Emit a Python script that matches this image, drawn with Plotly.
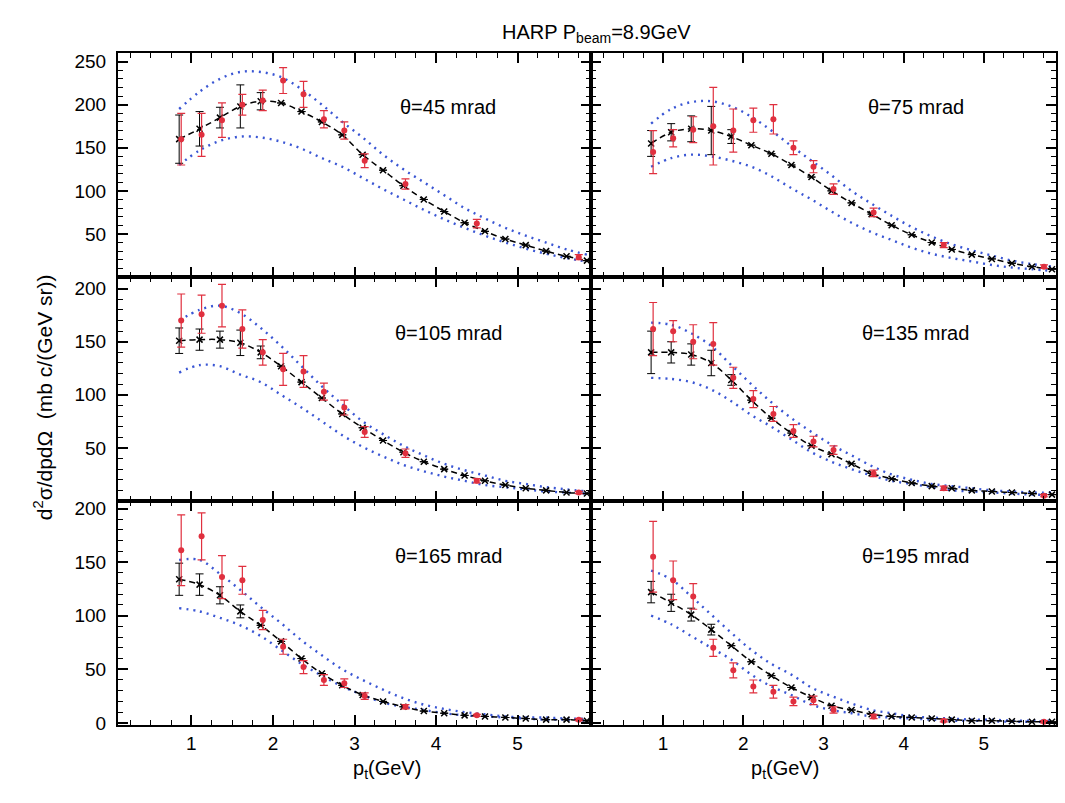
import plotly.graph_objects as go
from plotly.subplots import make_subplots

# ---------------- data ----------------
p_grid = [0.85, 1.1, 1.35, 1.6, 1.85, 2.1, 2.35, 2.6, 2.85, 3.1, 3.35,
          3.6, 3.85, 4.1, 4.35, 4.6, 4.85, 5.1, 5.35, 5.6, 5.85]
p_data = [0.875, 1.125, 1.375, 1.625, 1.875, 2.125, 2.375, 2.625, 2.875,
          3.125, 3.625, 4.5, 5.75]

angles = ["45", "75", "105", "135", "165", "195"]

# central model (black dashed)
mod_45 = [160, 172, 185, 198, 204, 202, 192, 180, 165, 142, 124, 106, 90, 76, 63, 53, 44, 37, 30, 24, 19]
mod_75 = [155, 168, 172, 170, 163, 153, 143, 130, 116, 100, 86, 73, 60, 49, 40, 32, 26, 21, 16, 12, 9]
mod_105 = [151, 152, 152, 149, 140, 127, 112, 97, 82, 69, 57, 46, 37, 30, 24, 19, 15, 12, 10, 8, 7]
mod_135 = [140, 140, 138, 130, 114, 95, 78, 64, 52, 44, 35, 26, 21, 17, 14, 12, 10, 9, 8, 7, 6]
mod_165 = [134, 129, 119, 104, 91, 76, 60, 46, 35, 26, 20, 15, 11, 9, 7, 6, 5, 4, 3, 3, 2]
mod_195 = [122, 112, 101, 87, 72, 57, 44, 33, 24, 16, 12, 8, 6, 5, 4, 3, 2, 2, 1.5, 1, 1]

# model errors (black bars)
moderr_45 = [28, 20, 12, 25, 10, 0, 0, 0, 0, 0, 0, 0, 0, 0, 0, 0, 0, 0, 0, 0, 0]
moderr_75 = [15, 10, 15, 28, 8, 0, 0, 0, 0, 0, 0, 0, 0, 0, 0, 0, 0, 0, 0, 0, 0]
moderr_105 = [12, 10, 8, 12, 6, 0, 0, 0, 0, 0, 0, 0, 0, 0, 0, 0, 0, 0, 0, 0, 0]
moderr_135 = [20, 10, 10, 12, 5, 0, 0, 0, 0, 0, 0, 0, 0, 0, 0, 0, 0, 0, 0, 0, 0]
moderr_165 = [15, 10, 8, 6, 0, 0, 0, 0, 0, 0, 0, 0, 0, 0, 0, 0, 0, 0, 0, 0, 0]
moderr_195 = [10, 8, 6, 5, 0, 0, 0, 0, 0, 0, 0, 0, 0, 0, 0, 0, 0, 0, 0, 0, 0]

# upper model band (blue dotted)
up_45 = [195, 215, 230, 238, 238, 232, 218, 200, 180, 162, 142, 125, 110, 95, 80, 68, 57, 48, 40, 32, 26]
up_75 = [178, 195, 203, 204, 198, 186, 170, 152, 135, 118, 100, 85, 71, 58, 47, 38, 31, 25, 19, 15, 12]
up_105 = [170, 180, 184, 177, 163, 146, 127, 108, 91, 75, 63, 52, 43, 35, 29, 24, 19, 16, 13, 11, 9]
up_135 = [168, 166, 158, 146, 128, 110, 93, 78, 65, 53, 43, 33, 25, 20, 16, 14, 12, 10, 9, 8, 8]
up_165 = [152, 152, 139, 124, 108, 93, 77, 63, 50, 40, 31, 23, 17, 13, 10, 8, 6, 5, 5, 4, 4]
up_195 = [142, 134, 118, 101, 84, 68, 55, 45, 33, 25, 18, 12, 9, 6, 5, 4, 3, 3, 2, 2, 2]

# lower model band (blue dotted)
lo_45 = [130, 147, 158, 163, 162, 157, 149, 138, 128, 115, 102, 90, 78, 67, 57, 48, 40, 33, 27, 22, 18]
lo_75 = [128, 138, 142, 140, 135, 128, 117, 103, 90, 76, 63, 52, 43, 34, 27, 22, 18, 14, 11, 9, 7]
lo_105 = [121, 128, 127, 119, 112, 100, 88, 75, 62, 51, 42, 34, 28, 23, 19, 15, 13, 11, 9, 8, 7]
lo_135 = [116, 115, 112, 105, 94, 81, 70, 58, 46, 37, 30, 24, 19, 16, 13, 10, 9, 8, 7, 6, 6]
lo_165 = [107, 104, 98, 91, 81, 68, 55, 44, 34, 26, 19, 15, 12, 9, 7, 6, 5, 4, 3, 3, 2]
lo_195 = [100, 92, 81, 70, 59, 45, 34, 26, 17, 12, 9, 6, 5, 4, 3, 2, 2, 1.5, 1, 1, 1]

# HARP data (red)
dat_45 = [160, 165, 182, 200, 205, 228, 212, 183, 170, 135, 108, 62, 23]
err_45 = [30, 25, 20, 12, 12, 15, 15, 10, 10, 8, 6, 5, 3]
dat_75 = [145, 161, 171, 175, 170, 182, 183, 150, 128, 102, 75, 37, 12]
err_75 = [25, 10, 15, 45, 25, 14, 17, 8, 7, 6, 5, 3, 2]
dat_105 = [170, 176, 184, 162, 140, 124, 122, 103, 88, 65, 45, 19, 8]
err_105 = [25, 18, 20, 18, 12, 15, 15, 8, 7, 5, 4, 2, 1]
dat_135 = [162, 160, 150, 148, 116, 96, 82, 66, 56, 48, 26, 12, 5]
err_135 = [25, 10, 16, 20, 10, 8, 7, 6, 5, 4, 3, 2, 1]
dat_165 = [161, 174, 136, 133, 96, 71, 52, 40, 37, 25, 15, 7, 3]
err_165 = [33, 22, 20, 13, 9, 7, 6, 5, 4, 3, 2, 1, 1]
dat_195 = [155, 133, 118, 70, 49, 34, 29, 20, 21, 12, 6, 2, 1]
err_195 = [33, 18, 12, 8, 7, 6, 6, 4, 4, 3, 2, 1, 1]

y_ranges = [[0, 260], [0, 211], [-2, 207]]
y_ticks = [[50, 100, 150, 200, 250], [50, 100, 150, 200], [0, 50, 100, 150, 200]]
x_ticks = [1, 2, 3, 4, 5]
label_y = [197, 158, 156]

panels = [
    (mod_45, moderr_45, up_45, lo_45, dat_45, err_45),
    (mod_75, moderr_75, up_75, lo_75, dat_75, err_75),
    (mod_105, moderr_105, up_105, lo_105, dat_105, err_105),
    (mod_135, moderr_135, up_135, lo_135, dat_135, err_135),
    (mod_165, moderr_165, up_165, lo_165, dat_165, err_165),
    (mod_195, moderr_195, up_195, lo_195, dat_195, err_195),
]

# ---------------- figure ----------------
W, H = 1065, 803
ML, MR, MT, MB = 118, 7, 53, 78
fig = make_subplots(rows=3, cols=2, horizontal_spacing=0, vertical_spacing=0)

FONT = "Liberation Sans, Arial, sans-serif"
RED = "#e0303f"
BLUE = "#3a56d4"

for i, (mod, merr, up, lo, dat, derr) in enumerate(panels):
    r = i // 2 + 1
    c = i % 2 + 1
    fig.add_trace(go.Scatter(x=p_grid, y=up, mode="lines", line=dict(color=BLUE, width=2.4, dash="2px,5px", shape="spline"),
                             showlegend=False, hoverinfo="skip"), row=r, col=c)
    fig.add_trace(go.Scatter(x=p_grid, y=lo, mode="lines", line=dict(color=BLUE, width=2.4, dash="2px,5px", shape="spline"),
                             showlegend=False, hoverinfo="skip"), row=r, col=c)
    fig.add_trace(go.Scatter(x=p_grid, y=mod, mode="lines+markers",
                             line=dict(color="black", width=1.5, dash="6px,4px", shape="spline"),
                             marker=dict(symbol="x-thin", size=6, line=dict(color="black", width=1.5)),
                             error_y=dict(type="data", array=merr, color="black", thickness=1, width=4),
                             showlegend=False), row=r, col=c)
    fig.add_trace(go.Scatter(x=p_data, y=dat, mode="markers",
                             marker=dict(symbol="circle", size=6, color=RED),
                             error_y=dict(type="data", array=derr, color=RED, thickness=1.2, width=4),
                             showlegend=False), row=r, col=c)
    ax = "" if i == 0 else str(i + 1)
    fig.add_annotation(x=4.15, y=label_y[r - 1], xref="x" + ax, yref="y" + ax,
                       text="θ=" + angles[i] + " mrad", showarrow=False,
                       font=dict(family=FONT, size=20, color="black"))

xsplit = (592 - ML) / (W - ML - MR)
for i in range(6):
    r = i // 2 + 1
    c = i % 2 + 1
    fig.update_xaxes(range=[0.1, 5.9], domain=[0, xsplit] if c == 1 else [xsplit, 1],
                     tickvals=x_ticks, showticklabels=(r == 3),
                     ticks="inside", ticklen=10, tickwidth=1.5, tickcolor="black",
                     minor=dict(ticks="inside", ticklen=5, dtick=0.25, tick0=0, tickcolor="black", tickwidth=1),
                     showline=True, linecolor="black", linewidth=2, mirror="allticks",
                     showgrid=False, zeroline=False,
                     tickfont=dict(family=FONT, size=19, color="black"),
                     row=r, col=c)
    fig.update_yaxes(range=y_ranges[r - 1], tickvals=y_ticks[r - 1], showticklabels=(c == 1),
                     ticks="inside", ticklen=10, tickwidth=1.5, tickcolor="black",
                     minor=dict(ticks="inside", ticklen=5, dtick=10, tick0=0, tickcolor="black", tickwidth=1),
                     showline=True, linecolor="black", linewidth=2, mirror="allticks",
                     showgrid=False, zeroline=False,
                     tickfont=dict(family=FONT, size=19, color="black"),
                     ticklabelstandoff=6,
                     row=r, col=c)

# titles
fig.add_annotation(x=(598 - ML) / (W - ML - MR), y=1 + (MT - 19) / (H - MT - MB), xref="paper", yref="paper",
                   text="HARP P<sub>beam</sub>=8.9GeV", showarrow=False,
                   font=dict(family=FONT, size=20, color="black"))
fig.add_annotation(x=-(ML - 28) / (W - ML - MR), y=1 - (397 - MT) / (H - MT - MB), xref="paper", yref="paper",
                   text="d<sup>2</sup>σ/dpdΩ  (mb c/(GeV sr))", showarrow=False, textangle=-90,
                   font=dict(family=FONT, size=21, color="black"))
for xp in (351, 822):
    fig.add_annotation(x=(xp - ML) / (W - ML - MR), y=-(784 - (H - MB)) / (H - MT - MB), xref="paper", yref="paper",
                       text="p<sub>t</sub>(GeV)", showarrow=False,
                       font=dict(family=FONT, size=20, color="black"))

fig.update_layout(width=W, height=H, margin=dict(l=ML, r=MR, t=MT, b=MB),
                  paper_bgcolor="white", plot_bgcolor="white", showlegend=False)

fig.write_html("out.html")
